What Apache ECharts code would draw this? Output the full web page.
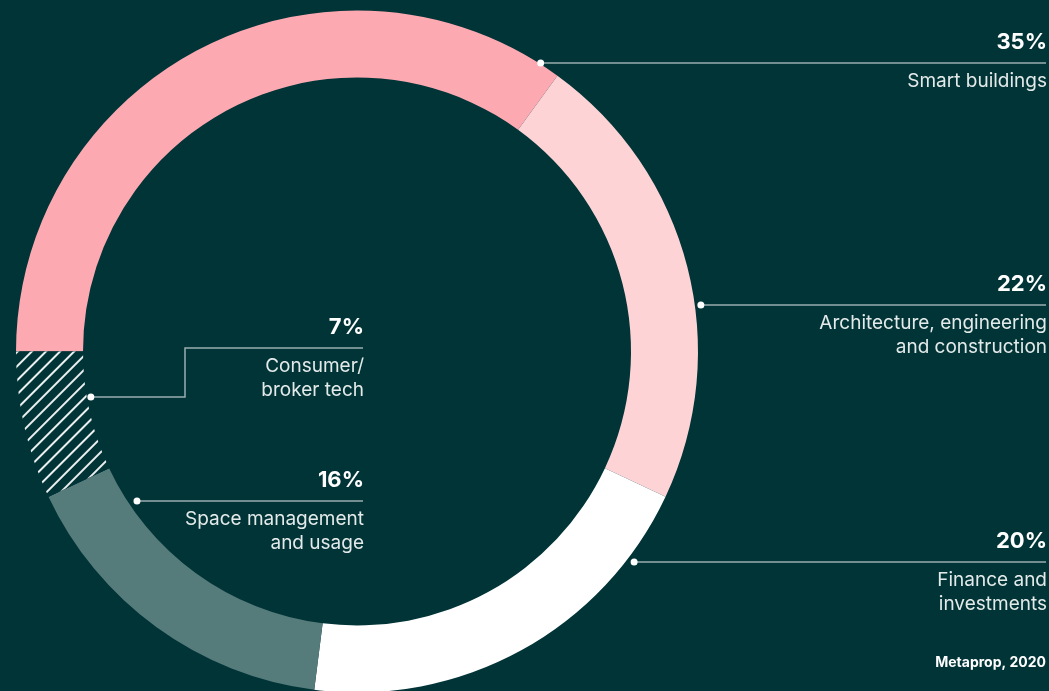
<!DOCTYPE html>
<html>
<head>
<meta charset="utf-8">
<script src="https://cdn.jsdelivr.net/npm/echarts@6/dist/echarts.min.js"></script>
<style>
html,body{margin:0;padding:0;background:#013437;}
#chart{width:1049px;height:691px;}
</style>
</head>
<body>
<div id="chart"></div>
<script>
// ---- data ----
const categories = [
  'Smart buildings',
  'Architecture, engineering\nand construction',
  'Finance and\ninvestments',
  'Space management\nand usage',
  'Consumer/\nbroker tech'
];
const values = [35, 22, 20, 16, 7];
const source = 'Metaprop, 2020';

// ---- styling / layout ----
const BG = '#013437';
const colors = ['#FDA9B2', '#FDD3D6', '#FFFFFF', '#557B7B', BG];
const CX = 357, CY = 351.5, R_IN = 274, R_OUT = 341;
const LINE_COLOR = 'rgba(255,255,255,0.6)';
// per-label leader configuration: anchor on ring (y, radius, side), line y, elbow x, label right x
const leaders = [
  {ay: 63,  ar: 342, side: 1,  ly: 63,  elbow: null, lx: 1047},
  {ay: 305, ar: 347, side: 1,  ly: 305, elbow: null, lx: 1047},
  {ay: 562, ar: 348, side: 1,  ly: 562, elbow: null, lx: 1047},
  {ay: 501, ar: 266, side: -1, ly: 501, elbow: null, lx: 364},
  {ay: 397, ar: 270, side: -1, ly: 348, elbow: 185,  lx: 364}
];
function anchor(c) {
  const dy = c.ay - CY;
  return [CX + c.side * Math.sqrt(c.ar * c.ar - dy * dy), c.ay];
}
const FONT = 'Inter, "Noto Sans", sans-serif';

const chart = echarts.init(document.getElementById('chart'), null, {renderer: 'canvas'});

const dots = leaders.map(c => {
  const p = anchor(c);
  return {type: 'circle', shape: {cx: p[0], cy: p[1], r: 3.5}, style: {fill: '#fff'}, silent: true, z: 100};
});

chart.setOption({
  backgroundColor: BG,
  animation: false,
  title: {
    text: source,
    right: 3, top: 656, padding: 0,
    textStyle: {color: '#fff', fontFamily: FONT, fontSize: 14, fontWeight: 'bold'}
  },
  graphic: dots,
  series: [{
    type: 'pie',
    center: [CX, CY],
    radius: [R_IN, R_OUT],
    startAngle: 180,
    clockwise: true,
    silent: true,
    emphasis: {disabled: true},
    avoidLabelOverlap: false,
    data: categories.map((n, i) => ({
      name: n,
      value: values[i],
      itemStyle: i === 4 ? {
        color: BG,
        decal: {
          symbol: 'rect', symbolSize: 1,
          dashArrayX: [1, 0], dashArrayY: [1.8, 7.2],
          rotation: -Math.PI / 4,
          color: 'rgba(255,255,255,0.92)',
          backgroundColor: BG
        }
      } : {color: colors[i]}
    })),
    itemStyle: {borderWidth: 0},
    label: {
      show: true,
      position: 'outside',
      fontFamily: FONT,
      formatter: p => '{p|' + p.value + '%}\n{s| }\n{n|' + p.name + '}',
      rich: {
        p: {color: '#fff', fontSize: 22, fontWeight: 'bold', lineHeight: 42, align: 'right', fontFamily: FONT},
        s: {fontSize: 1, lineHeight: 6, align: 'right'},
        n: {color: '#E3EAE9', fontSize: 19, lineHeight: 24, align: 'right', fontFamily: FONT}
      }
    },
    labelLine: {show: true, lineStyle: {color: LINE_COLOR, width: 1.5}},
    labelLayout: params => {
      const c = leaders[params.dataIndex];
      const a = anchor(c);
      const lineEnd = c.lx - 1;
      const pts = c.elbow == null
        ? [a, [lineEnd, c.ly]]
        : [a, [c.elbow, c.ay], [c.elbow, c.ly], [lineEnd, c.ly]];
      return {
        x: c.lx, y: c.ly - 42,
        align: 'right', verticalAlign: 'top',
        labelLinePoints: pts
      };
    }
  }]
});
</script>
</body>
</html>
